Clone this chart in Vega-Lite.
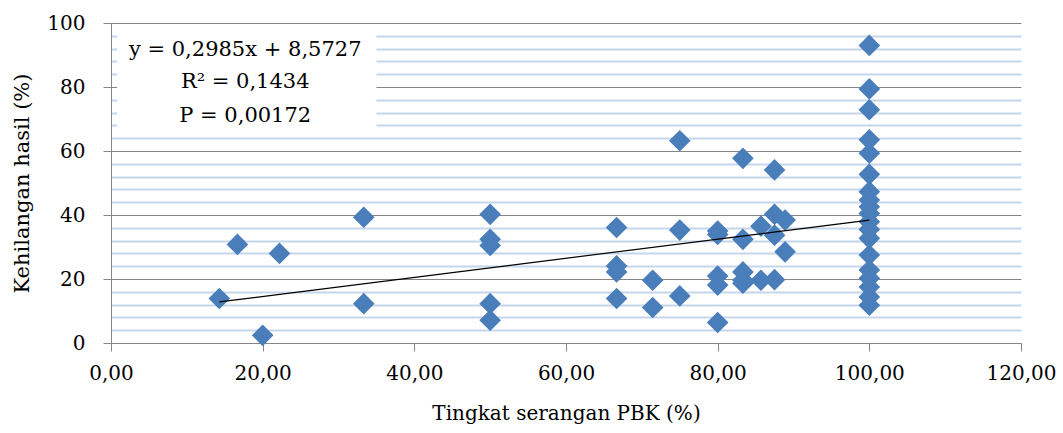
{
  "$schema": "https://vega.github.io/schema/vega-lite/v6.json",
  "width": 910,
  "height": 320,
  "autosize": "none",
  "padding": {"left": 111, "top": 23, "right": 42, "bottom": 90},
  "background": "white",
  "config": {"view": {"stroke": null}, "font": "DejaVu Serif"},
  "datasets": {
    "points": [
      {"x": 14.29, "y": 13.9}, {"x": 16.67, "y": 30.8}, {"x": 22.22, "y": 28.0}, {"x": 20.0, "y": 2.4},
      {"x": 33.33, "y": 39.3}, {"x": 33.33, "y": 12.3},
      {"x": 50, "y": 40.2}, {"x": 50, "y": 32.4}, {"x": 50, "y": 30.5}, {"x": 50, "y": 12.3}, {"x": 50, "y": 7.1},
      {"x": 66.67, "y": 36.1}, {"x": 66.67, "y": 24.1}, {"x": 66.67, "y": 22.2}, {"x": 66.67, "y": 13.9},
      {"x": 71.43, "y": 19.6}, {"x": 71.43, "y": 11.1},
      {"x": 75, "y": 63.2}, {"x": 75, "y": 35.3}, {"x": 75, "y": 14.7},
      {"x": 80, "y": 35.0}, {"x": 80, "y": 33.9}, {"x": 80, "y": 20.9}, {"x": 80, "y": 18.1}, {"x": 80, "y": 6.4},
      {"x": 83.33, "y": 57.7}, {"x": 83.33, "y": 32.4}, {"x": 83.33, "y": 22.2}, {"x": 83.33, "y": 19.6}, {"x": 83.33, "y": 18.7},
      {"x": 85.71, "y": 36.5}, {"x": 85.71, "y": 19.6},
      {"x": 87.5, "y": 54.1}, {"x": 87.5, "y": 40.2}, {"x": 87.5, "y": 33.7}, {"x": 87.5, "y": 19.8},
      {"x": 88.89, "y": 38.4}, {"x": 88.89, "y": 28.5},
      {"x": 100, "y": 93.0}, {"x": 100, "y": 79.4}, {"x": 100, "y": 72.9}, {"x": 100, "y": 63.5}, {"x": 100, "y": 59.3},
      {"x": 100, "y": 52.7}, {"x": 100, "y": 47.3}, {"x": 100, "y": 44.7}, {"x": 100, "y": 42.6}, {"x": 100, "y": 40.5},
      {"x": 100, "y": 37.9}, {"x": 100, "y": 35.5}, {"x": 100, "y": 32.7}, {"x": 100, "y": 27.5}, {"x": 100, "y": 22.8},
      {"x": 100, "y": 20.2}, {"x": 100, "y": 17.5}, {"x": 100, "y": 14.4}, {"x": 100, "y": 11.8}
    ],
    "trend": [
      {"x": 14.29, "y": 12.84},
      {"x": 100, "y": 38.42}
    ],
    "one": [{}]
  },
  "layer": [
    {
      "data": {"name": "points"},
      "mark": {"type": "point", "opacity": 0},
      "encoding": {
        "x": {
          "field": "x", "type": "quantitative",
          "scale": {"domain": [0, 120], "nice": false, "zero": true},
          "axis": {
            "values": [0, 20, 40, 60, 80, 100, 120],
            "tickCount": 50,
            "grid": false,
            "domainColor": "#868686",
            "tickColor": "#868686",
            "tickSize": 8,
            "labelExpr": "replace(format(datum.value, '.2f'), '.', ',')",
            "labelFont": "DejaVu Serif",
            "labelFontSize": 20,
            "labelColor": "#000000",
            "labelPadding": 12,
            "labelFlush": false,
            "labelOverlap": false,
            "title": "Tingkat serangan PBK (%)",
            "titleFont": "DejaVu Serif",
            "titleFontSize": 20,
            "titleFontWeight": "normal",
            "titleColor": "#000000",
            "titlePadding": 20
          }
        },
        "y": {
          "field": "y", "type": "quantitative",
          "scale": {"domain": [0, 100], "nice": false},
          "axis": {
            "values": [0, 4, 8, 12, 16, 20, 24, 28, 32, 36, 40, 44, 48, 52, 56, 60, 64, 68, 72, 76, 80, 84, 88, 92, 96, 100],
            "tickCount": 50,
            "grid": true,
            "gridColor": {"condition": {"test": "datum.value % 20 === 0", "value": "#868686"}, "value": "#c5d6ec"},
            "gridWidth": {"condition": {"test": "datum.value % 20 === 0", "value": 1}, "value": 2},
            "domainColor": "#868686",
            "tickColor": "#868686",
            "tickSize": 8,
            "tickOpacity": {"condition": {"test": "datum.value % 20 === 0", "value": 1}, "value": 0},
            "labelExpr": "datum.value % 20 === 0 ? datum.label : ''",
            "labelFont": "DejaVu Serif",
            "labelFontSize": 20,
            "labelColor": "#000000",
            "labelPadding": 18,
            "labelFlush": false,
            "labelOverlap": false,
            "title": "Kehilangan hasil (%)",
            "titleFont": "DejaVu Serif",
            "titleFontSize": 21,
            "titleFontWeight": "normal",
            "titleColor": "#000000",
            "titlePadding": 14
          }
        }
      }
    },
    {
      "data": {"name": "one"},
      "mark": {"type": "rect", "fill": "white", "stroke": null},
      "encoding": {
        "x": {"datum": 0.8, "type": "quantitative"},
        "x2": {"datum": 35},
        "y": {"datum": 66, "type": "quantitative"},
        "y2": {"datum": 99.7}
      }
    },
    {
      "data": {"name": "points"},
      "mark": {"type": "point", "shape": "diamond", "filled": true, "size": 470, "color": "#4a7ebb", "opacity": 1, "strokeWidth": 0},
      "encoding": {
        "x": {"field": "x", "type": "quantitative"},
        "y": {"field": "y", "type": "quantitative"}
      }
    },
    {
      "data": {"name": "trend"},
      "mark": {"type": "line", "color": "#000000", "strokeWidth": 1.2},
      "encoding": {
        "x": {"field": "x", "type": "quantitative"},
        "y": {"field": "y", "type": "quantitative"}
      }
    },
    {
      "data": {"name": "one"},
      "mark": {"type": "text", "text": "y = 0,2985x + 8,5727", "font": "DejaVu Serif", "fontSize": 21, "align": "center", "baseline": "alphabetic", "color": "#000000"},
      "encoding": {"x": {"datum": 17.7, "type": "quantitative"}, "y": {"datum": 89.8, "type": "quantitative"}}
    },
    {
      "data": {"name": "one"},
      "mark": {"type": "text", "text": "R² = 0,1434", "font": "DejaVu Serif", "fontSize": 21, "align": "center", "baseline": "alphabetic", "color": "#000000"},
      "encoding": {"x": {"datum": 17.7, "type": "quantitative"}, "y": {"datum": 79.6, "type": "quantitative"}}
    },
    {
      "data": {"name": "one"},
      "mark": {"type": "text", "text": "P = 0,00172", "font": "DejaVu Serif", "fontSize": 21, "align": "center", "baseline": "alphabetic", "color": "#000000"},
      "encoding": {"x": {"datum": 17.7, "type": "quantitative"}, "y": {"datum": 69.2, "type": "quantitative"}}
    }
  ]
}
